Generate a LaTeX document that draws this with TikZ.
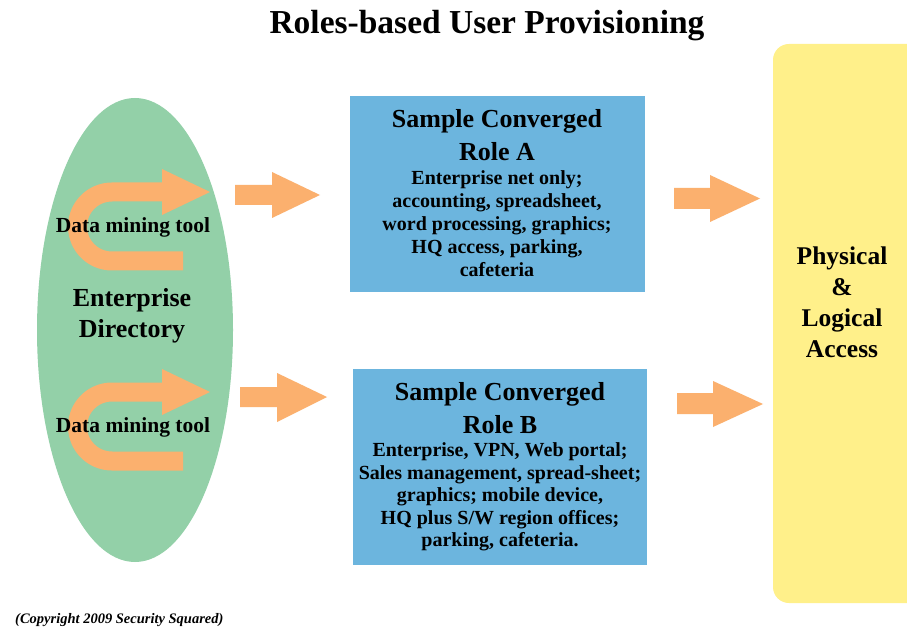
\documentclass[tikz,border=0pt]{standalone}
\usepackage{fontspec}
\setmainfont{Liberation Serif}
\usetikzlibrary{shapes.geometric}

\definecolor{dirgreen}{HTML}{93D0A8}
\definecolor{roleblue}{HTML}{6CB5DE}
\definecolor{accessyellow}{HTML}{FFF08A}
\definecolor{flowor}{HTML}{FBB06E}

\newcommand{\fs}[2]{\fontsize{#1}{#2}\selectfont}

\tikzset{
  lbl/.style={align=center, inner sep=0pt, font=\bfseries},
  rolebox/.style={rectangle, fill=roleblue, inner sep=0pt},
  flow/.style={fill=flowor},
  uturn/.style={draw=flowor, line width=19pt},
}

\begin{document}
\begin{tikzpicture}[x=1pt, y=-1pt]
  \useasboundingbox (0,0) rectangle (907,628);
  \fill[white] (0,0) rectangle (907,628);
  \clip (0,0) rectangle (907,628);

  % title
  \node[lbl, font=\bfseries\fs{33.5}{38}] (title) at (487,26) {Roles-based User Provisioning};

  % enterprise directory
  \node[ellipse, fill=dirgreen, minimum width=196pt, minimum height=464pt, inner sep=0pt] (dir) at (135,330) {};

  % data mining U-turn arrows
  \foreach \dy/\nm in {0/mineA, 200/mineB} {
    \begin{scope}[yshift=-\dy pt]
      \draw[uturn] (183,261) -- (112,261) arc[start angle=270, end angle=90, radius=34.5pt] -- (165,192);
      \fill[flow] (162,169) -- (210,192) -- (162,215) -- cycle;
      \node[lbl, font=\bfseries\fs{21.5}{24}] (\nm) at (133,227) {Data mining tool};
    \end{scope}
  }

  \node[lbl, font=\bfseries\fs{26}{31}] (dirlabel) at (132,315.5) {Enterprise\\Directory};

  % role boxes
  \node[rolebox, minimum width=295pt, minimum height=196pt] (roleA) at (497.5,194) {};
  \node[lbl, font=\bfseries\fs{26}{33}] (roleAt) at (497,135.5) {Sample Converged\\Role A};
  \node[lbl, font=\bfseries\fs{20}{23}] (roleAb) at (497,224) {Enterprise net only;\\accounting, spreadsheet,\\word processing, graphics;\\HQ access, parking,\\cafeteria};

  \node[rolebox, minimum width=294pt, minimum height=196pt] (roleB) at (500,467) {};
  \node[lbl, font=\bfseries\fs{26}{33}] (roleBt) at (500,408.5) {Sample Converged\\Role B};
  \node[lbl, font=\bfseries\fs{20}{22.5}] (roleBb) at (500,497) {Enterprise, VPN, Web portal;\\Sales management, spread-sheet;\\graphics; mobile device,\\HQ plus S/W region offices;\\parking, cafeteria.};

  % access panel
  \fill[accessyellow, rounded corners=16pt] (773,44) rectangle (930,603);
  \node[lbl, font=\bfseries\fs{25.5}{31}] (access) at (842,302) {Physical\\\&\\Logical\\Access};

  % block arrows
  \fill[flow] (235,185) -- (272,185) -- (272,172) -- (320,195) -- (272,218) -- (272,205) -- (235,205) -- cycle;
  \fill[flow] (240,387) -- (277,387) -- (277,373) -- (327,397) -- (277,422) -- (277,407) -- (240,407) -- cycle;
  \fill[flow] (674,188) -- (710,188) -- (710,175) -- (760,198.5) -- (710,222) -- (710,209) -- (674,209) -- cycle;
  \fill[flow] (677,393) -- (713,393) -- (713,381) -- (763,404) -- (713,427) -- (713,414) -- (677,414) -- cycle;

  % copyright
  \node[anchor=west, inner sep=0pt, font=\bfseries\itshape\fs{14.5}{16}] (copy) at (15,620) {(Copyright 2009 Security Squared)};
\end{tikzpicture}
\end{document}
